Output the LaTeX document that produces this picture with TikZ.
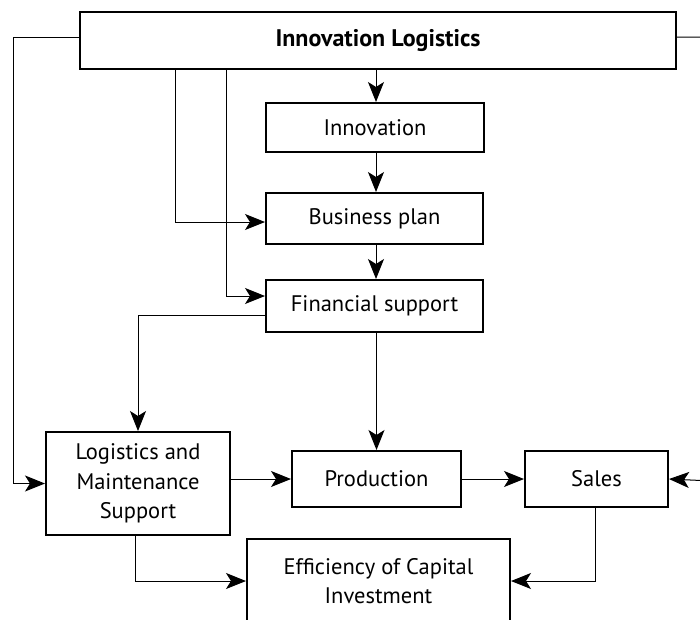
\documentclass[tikz,border=0pt]{standalone}
\usepackage{fontspec}
\setmainfont{PT Sans}
\usetikzlibrary{arrows.meta,calc}
\begin{document}
\begin{tikzpicture}[x=1pt,y=-1pt,
  box/.style={draw,line width=2pt,rectangle,inner sep=0pt,align=center,font=\fontsize{22.5}{29.5}\selectfont},
  arr/.style={line width=1pt,-{Stealth[length=20pt,width=16pt,inset=5pt]}},
  ln/.style={line width=1pt}]
\useasboundingbox (0,0) rectangle (700,619);
\clip (0,0) rectangle (700,619);
\node[box,minimum width=596pt,minimum height=57pt,font=\fontsize{24}{29.5}\selectfont\bfseries] (IL) at (378,40.5) {Innovation Logistics};
\node[box,minimum width=218pt,minimum height=49pt] (Inn) at (375,127.5) {Innovation};
\node[box,minimum width=217pt,minimum height=51pt] (BP) at (374.5,218.5) {Business plan};
\node[box,minimum width=217pt,minimum height=52pt] (FS) at (374.5,306) {Financial support};
\node[box,minimum width=184pt,minimum height=103pt] (LM) at (138,483.5) {Logistics and\\Maintenance\\Support};
\node[box,minimum width=169pt,minimum height=56pt] (Prod) at (376.5,479) {Production};
\node[box,minimum width=143pt,minimum height=56pt] (Sales) at (596.5,479) {Sales};
\node[box,minimum width=263pt,minimum height=84pt] (Eff) at (378.5,581) {Efficiency of Capital\\Investment};
\coordinate (L1) at (13,37);
\coordinate (R1) at (712,37);
\coordinate (R2) at (712,481);
% top feeds
\draw[arr] (IL.south -| 376,0) -- (Inn.north -| 376,0);
\draw[arr] (Inn.south -| 376,0) -- (BP.north -| 376,0);
\draw[arr] (BP.south -| 376,0) -- (FS.north -| 376,0);
\draw[arr] (IL.south -| 175,0) |- ([yshift=-3.5pt]BP.west);
\draw[arr] (IL.south -| 226,0) |- ([yshift=10pt]FS.west);
% left side
\draw[arr] ([yshift=3.5pt]IL.west) -- (L1) |- (LM.west);
% right side
\draw[arr] ([yshift=3.5pt]IL.east) -- (R1) -- (R2) -- (Sales.east);
% financial support
\draw[arr] ([yshift=-9pt]FS.west) -| (LM.north);
\draw[arr] (FS.south -| Prod.north) -- (Prod.north);
% middle row
\draw[arr] (LM.east |- Prod.west) -- (Prod.west);
\draw[arr] (Prod.east) -- (Sales.west);
% bottom
\draw[arr] (LM.south -| 135,0) |- (Eff.west);
\draw[arr] (Sales.south -| 595,0) |- (Eff.east);
\end{tikzpicture}
\end{document}
